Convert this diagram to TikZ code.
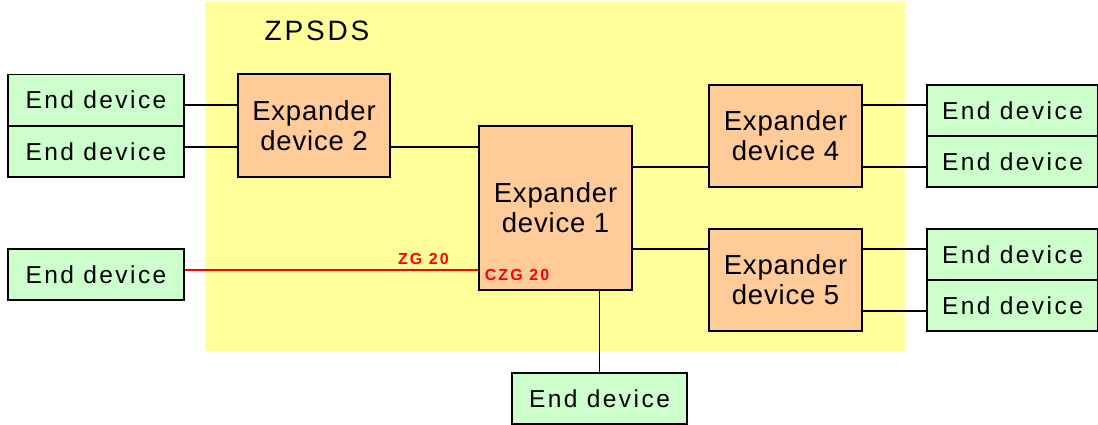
\documentclass[tikz,border=0pt]{standalone}
\usepackage{fontspec}
\setmainfont{Liberation Sans}
\newfontfamily\wideface[LetterSpace=10]{Liberation Sans}
\newfontfamily\midface[LetterSpace=3]{Liberation Sans}
\newfontfamily\boldwide[LetterSpace=13]{Liberation Sans Bold}
\definecolor{zyellow}{HTML}{FFFF99}
\definecolor{zgreen}{HTML}{CCFFCC}
\definecolor{zorange}{HTML}{FFCC99}
\begin{document}
\begin{tikzpicture}[x=1pt,y=-1pt,
  edbox/.style={draw=black, line width=1.5pt, fill=zgreen, minimum width=176pt, minimum height=51pt, inner sep=0pt, font=\wideface\fontsize{24.5}{28}\selectfont},
  expbox/.style={draw=black, line width=1.5pt, fill=zorange, inner sep=0pt, align=center, font=\midface\fontsize{27.5}{30}\selectfont},
  conn/.style={draw=black, line width=1.3pt},
  redconn/.style={draw=red, line width=1.3pt},
  redlab/.style={text=red, font=\boldwide\fontsize{16}{18}\selectfont, inner sep=0pt}]
\useasboundingbox (0,0) rectangle (1098,425);
\fill[zyellow] (205,2) rectangle (905,351);
\node[font=\wideface\fontsize{28}{32}\selectfont, inner sep=0pt] (title) at (317,31) {ZPSDS};
% expanders
\node[expbox, minimum width=152pt, minimum height=103pt] (e2) at (314,125.5) {Expander\\device 2};
\node[expbox, minimum width=153pt, minimum height=164pt] (e1) at (555.5,208) {Expander\\device 1};
\node[expbox, minimum width=153pt, minimum height=102pt] (e4) at (785.5,136) {Expander\\device 4};
\node[expbox, minimum width=153pt, minimum height=102pt] (e5) at (785.5,280) {Expander\\device 5};
% end devices
\node[edbox] (l1) at (96,100) {End device};
\node[edbox] (l2) at (96,151.5) {End device};
\node[edbox] (l3) at (96,274.5) {End device};
\node[edbox, minimum width=171pt] (r1) at (1012.5,110.5) {End device};
\node[edbox, minimum width=171pt] (r2) at (1012.5,161.5) {End device};
\node[edbox, minimum width=171pt] (r3) at (1012.5,254.5) {End device};
\node[edbox, minimum width=171pt] (r4) at (1012.5,305.5) {End device};
\node[edbox, minimum width=175pt] (b1) at (599.5,398.5) {End device};
% connectors
\draw[conn] (l1.east) ++(0,5) coordinate (c1) -- (c1 -| e2.west);
\draw[conn] (l2.east) ++(0,-4.5) coordinate (c2) -- (c2 -| e2.west);
\draw[conn] (e2.east) ++(0,21.5) coordinate (c3) -- (c3 -| e1.west);
\draw[conn] (e4.west) ++(0,31) coordinate (c4) -- (c4 -| e1.east);
\draw[conn] (e5.west) ++(0,-31) coordinate (c5) -- (c5 -| e1.east);
\draw[conn] (e4.east) ++(0,-31) coordinate (c6) -- (c6 -| r1.west);
\draw[conn] (e4.east) ++(0,31) coordinate (c7) -- (c7 -| r2.west);
\draw[conn] (e5.east) ++(0,-31) coordinate (c8) -- (c8 -| r3.west);
\draw[conn] (e5.east) ++(0,31) coordinate (c9) -- (c9 -| r4.west);
\draw[conn] (b1.north) coordinate (c10) -- (c10 |- e1.south);
\draw[redconn] (l3.east) ++(0,-4.5) coordinate (c11) -- (c11 -| e1.west);
\node[redlab] (zg) at (423.5,259) {ZG 20};
\node[redlab] (czg) at (517,274.5) {CZG 20};
\end{tikzpicture}
\end{document}
